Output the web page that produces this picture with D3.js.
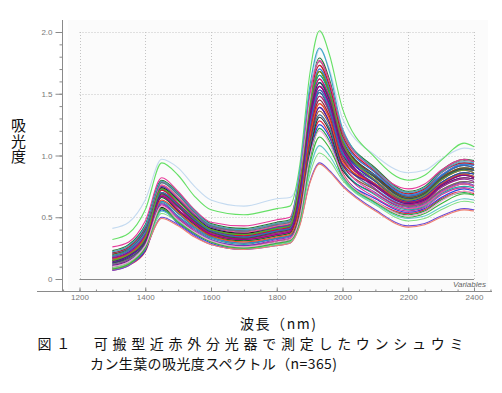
<!DOCTYPE html>
<html><head><meta charset="utf-8">
<script src="https://cdn.jsdelivr.net/npm/d3@7"></script>
<style>html,body{margin:0;padding:0;background:#fff;}svg{display:block;}</style>
</head><body>
<script>
const wavelengths = [1300,1350,1400,1450,1500,1550,1600,1700,1800,1840,1870,1900,1930,1960,2000,2100,2200,2250,2300,2370,2400];

const coreSpectra = [
[.07,.11,.22,.57,.46,.37,.30,.25,.29,.31,.49,1.01,1.28,1.17,.86,.63,.53,.56,.65,.71,.69],
[.08,.12,.23,.56,.45,.36,.29,.24,.28,.30,.47,.98,1.25,1.15,.84,.65,.54,.57,.66,.73,.71],
[.09,.13,.24,.58,.48,.38,.31,.26,.30,.32,.45,.95,1.22,1.12,.82,.62,.52,.55,.64,.70,.68],
[.09,.14,.25,.60,.49,.39,.31,.27,.31,.33,.53,1.06,1.33,1.22,.90,.66,.55,.58,.68,.74,.72],
[.10,.14,.26,.58,.48,.38,.31,.26,.30,.32,.51,1.03,1.31,1.20,.88,.69,.57,.60,.70,.77,.75],
[.11,.15,.28,.62,.51,.41,.33,.28,.33,.35,.53,1.06,1.33,1.22,.90,.68,.56,.59,.69,.75,.74],
[.12,.16,.29,.61,.50,.40,.32,.27,.32,.34,.57,1.12,1.39,1.27,.93,.70,.58,.61,.71,.78,.76],
[.10,.14,.26,.63,.53,.42,.34,.29,.33,.35,.55,1.09,1.36,1.25,.92,.72,.59,.62,.72,.79,.78],
[.13,.17,.30,.64,.54,.43,.35,.30,.34,.36,.59,1.14,1.42,1.30,.95,.69,.57,.60,.70,.77,.75],
[.13,.18,.31,.63,.53,.42,.34,.29,.33,.35,.61,1.17,1.45,1.32,.97,.73,.60,.63,.74,.81,.79],
[.12,.16,.29,.66,.55,.44,.35,.31,.35,.37,.63,1.20,1.48,1.35,.99,.72,.59,.62,.72,.79,.78],
[.14,.19,.32,.67,.56,.45,.36,.32,.36,.38,.61,1.17,1.45,1.32,.97,.75,.61,.64,.75,.82,.81],
[.15,.20,.33,.66,.55,.44,.35,.31,.35,.37,.65,1.23,1.51,1.37,1.01,.76,.62,.65,.76,.84,.82],
[.13,.18,.31,.68,.58,.46,.37,.33,.37,.39,.67,1.25,1.53,1.40,1.03,.75,.61,.64,.75,.82,.81],
[.16,.20,.34,.68,.58,.46,.37,.33,.37,.39,.63,1.20,1.48,1.35,.99,.77,.62,.66,.77,.85,.83],
[.15,.20,.33,.69,.59,.47,.38,.33,.38,.40,.65,1.23,1.51,1.37,1.01,.79,.63,.67,.78,.86,.85],
[.17,.21,.35,.69,.59,.47,.38,.33,.38,.40,.69,1.28,1.56,1.42,1.05,.76,.62,.65,.76,.84,.82],
[.16,.20,.34,.70,.60,.48,.39,.34,.39,.41,.67,1.25,1.53,1.40,1.03,.77,.62,.66,.77,.85,.83],
[.17,.22,.36,.70,.60,.48,.39,.34,.39,.41,.71,1.31,1.59,1.45,1.07,.79,.63,.67,.78,.86,.85],
[.17,.21,.35,.72,.61,.49,.39,.35,.40,.42,.69,1.28,1.56,1.42,1.05,.80,.64,.68,.80,.88,.86],
[.18,.23,.37,.72,.61,.49,.39,.35,.40,.42,.73,1.34,1.62,1.47,1.09,.82,.65,.69,.81,.89,.88],
[.17,.22,.36,.73,.63,.50,.40,.36,.41,.43,.71,1.31,1.59,1.45,1.07,.79,.63,.67,.78,.86,.85],
[.19,.24,.39,.73,.63,.50,.40,.36,.41,.43,.75,1.36,1.65,1.50,1.11,.83,.66,.70,.82,.90,.89],
[.18,.23,.37,.74,.64,.51,.41,.37,.42,.44,.73,1.34,1.62,1.47,1.09,.80,.64,.68,.80,.88,.86],
[.20,.25,.40,.74,.64,.51,.41,.37,.42,.44,.77,1.39,1.68,1.52,1.12,.84,.67,.71,.83,.92,.90],
[.19,.24,.39,.75,.65,.52,.42,.38,.42,.44,.75,1.36,1.65,1.50,1.11,.82,.65,.69,.81,.89,.88],
[.21,.25,.41,.75,.65,.52,.42,.38,.42,.44,.79,1.42,1.70,1.55,1.14,.86,.68,.72,.84,.93,.92],
[.20,.25,.40,.76,.66,.53,.43,.38,.43,.45,.77,1.39,1.68,1.52,1.12,.83,.66,.70,.82,.90,.89],
[.21,.26,.42,.76,.66,.53,.43,.38,.43,.45,.81,1.45,1.73,1.57,1.16,.87,.69,.73,.86,.94,.93],
[.21,.25,.41,.78,.68,.54,.43,.39,.44,.46,.79,1.42,1.70,1.55,1.14,.86,.68,.72,.84,.93,.92],
[.22,.27,.43,.78,.68,.54,.43,.39,.44,.46,.83,1.47,1.76,1.60,1.18,.89,.70,.74,.87,.96,.95],
[.21,.26,.42,.79,.69,.55,.44,.40,.45,.47,.81,1.45,1.73,1.57,1.16,.87,.69,.73,.86,.94,.93],
[.23,.28,.44,.80,.70,.56,.45,.41,.46,.48,.85,1.50,1.79,1.62,1.20,.90,.71,.75,.88,.97,.96],
[.14,.19,.32,.70,.60,.48,.39,.34,.39,.41,.57,1.12,1.39,1.27,.93,.76,.62,.65,.76,.84,.82],
[.17,.21,.35,.67,.56,.45,.36,.32,.36,.38,.73,1.34,1.62,1.47,1.09,.73,.60,.63,.74,.81,.79],
[.13,.17,.30,.69,.59,.47,.38,.33,.38,.40,.71,1.31,1.59,1.45,1.07,.82,.65,.69,.81,.89,.88],
[.16,.20,.34,.64,.54,.43,.35,.30,.34,.36,.59,1.14,1.42,1.30,.95,.77,.62,.66,.77,.85,.83],
[.18,.23,.37,.70,.60,.48,.39,.34,.39,.41,.65,1.23,1.51,1.37,1.01,.84,.67,.71,.83,.92,.90],
[.15,.20,.33,.73,.63,.50,.40,.36,.41,.43,.77,1.39,1.68,1.52,1.12,.80,.64,.68,.80,.88,.86],
[.11,.15,.28,.67,.56,.45,.36,.32,.36,.38,.69,1.28,1.56,1.42,1.05,.76,.62,.65,.76,.84,.82]
];

const outlierSpectra = [
[.41,.46,.64,.97,.90,.75,.64,.59,.65,.66,.85,1.45,1.86,1.70,1.30,1.00,.86,.88,.97,1.06,1.05],
[.32,.37,.56,.94,.84,.67,.56,.52,.57,.59,.92,1.65,2.01,1.82,1.38,.98,.80,.84,.96,1.10,1.07],
[.26,.30,.47,.82,.71,.56,.46,.43,.48,.50,.85,1.48,1.77,1.60,1.20,.88,.73,.77,.88,.97,.95],
[.22,.27,.43,.79,.69,.55,.44,.40,.45,.47,.88,1.55,1.87,1.68,1.22,.88,.70,.74,.86,.95,.94],
[.07,.11,.24,.50,.44,.35,.28,.24,.27,.29,.44,.78,.94,.88,.76,.56,.43,.45,.51,.57,.56],
[.08,.12,.25,.49,.43,.34,.28,.24,.27,.29,.43,.77,.93,.87,.75,.55,.42,.44,.50,.56,.55],
[.09,.13,.26,.53,.46,.37,.30,.25,.28,.30,.46,.84,1.02,.96,.80,.60,.47,.49,.56,.63,.62],
[.10,.14,.27,.55,.47,.38,.31,.26,.29,.31,.47,.88,1.08,1.00,.82,.61,.49,.51,.58,.65,.64],
[.08,.12,.25,.57,.46,.37,.30,.25,.29,.31,.47,.92,1.15,1.06,.84,.62,.50,.53,.61,.69,.68],
[.10,.14,.27,.59,.48,.38,.31,.26,.30,.32,.50,.98,1.20,1.10,.85,.63,.51,.54,.63,.71,.70]
];

const coreColors = ["#e0102a","#1530d8","#0a9a3a","#d01890","#1a1a1a","#0d9c9c","#7030c0","#8b3a1a","#ff5fa8","#2090e0","#707070","#b01818","#0a6a20","#4a1a90","#c0107a","#305050","#e85010","#3a70c0","#60b020","#900090"];
const outlierColors = ["#c4daf0","#66e066","#e8389a","#40a8c8","#6a4cd8","#f08070","#80e080","#60c8c8","#3cb43c","#f0a0d0"];

const xTickValues = [1200,1400,1600,1800,2000,2200,2400];
const yTickValues = [0,0.5,1.0,1.5,2.0];
const yTickLabels = ["0","0.5","1.0","1.5","2.0"];

const W = 502, H = 393;
const svg = d3.select("body").append("svg").attr("width", W).attr("height", H);
svg.append("rect").attr("width", W).attr("height", H).attr("fill", "#fff");
svg.append("rect").attr("x", 68).attr("y", 20).attr("width", 420).attr("height", 270).attr("fill", "#fbfbfb");

const x = d3.scaleLinear().domain([1200, 2400]).range([79.5, 474]);
const y = d3.scaleLinear().domain([0, 2]).range([279, 32]);

// grid
const grid = svg.append("g").attr("stroke", "#c4c4c4").attr("stroke-dasharray", "1,2").attr("stroke-width", 1);
grid.selectAll("line.v").data(xTickValues).join("line")
  .attr("x1", d => Math.round(x(d)) + 0.5).attr("x2", d => Math.round(x(d)) + 0.5)
  .attr("y1", y(2)).attr("y2", y(0));
grid.selectAll("line.h").data(yTickValues.filter(v => v > 0)).join("line")
  .attr("x1", x(1200)).attr("x2", x(2400))
  .attr("y1", d => Math.round(y(d)) + 0.5).attr("y2", d => Math.round(y(d)) + 0.5);

// zero line
svg.append("line").attr("x1", x(1200)).attr("x2", x(2400))
  .attr("y1", Math.round(y(0)) + 0.5).attr("y2", Math.round(y(0)) + 0.5)
  .attr("stroke", "#888").attr("stroke-width", 1);

// spectra
const line = d3.line().x((d, i) => x(wavelengths[i])).y(d => y(d)).curve(d3.curveMonotoneX);
const gLines = svg.append("g").attr("fill", "none").attr("stroke-width", 1.1);
gLines.selectAll("path.core").data(coreSpectra).join("path")
  .attr("d", line).attr("stroke", (d, i) => coreColors[i % coreColors.length]).attr("stroke-opacity", 0.9);
gLines.selectAll("path.out").data(outlierSpectra).join("path")
  .attr("d", line).attr("stroke", (d, i) => outlierColors[i]);

// y axis
const yAxisX = 62.5;
const yMajor = d3.axisLeft(y).tickValues(yTickValues).tickSize(7).tickPadding(3)
  .tickFormat((d, i) => yTickLabels[i]);
const yMinor = d3.axisLeft(y).tickValues(d3.range(0, 2.001, 0.1)).tickSize(3).tickFormat("");
const gyMinor = svg.append("g").attr("transform", `translate(${yAxisX},0)`).call(yMinor);
const gy = svg.append("g").attr("transform", `translate(${yAxisX},0)`).call(yMajor);
[gy, gyMinor].forEach(g => {
  g.select(".domain").remove();
  g.selectAll("line").attr("stroke", "#8a8a8a");
});
gy.selectAll("text").attr("font-family", "Liberation Sans, Arial, sans-serif").attr("font-size", 8).attr("fill", "#777");
svg.append("line").attr("x1", yAxisX).attr("x2", yAxisX).attr("y1", 20).attr("y2", 291).attr("stroke", "#8a8a8a");

// x axis
const xAxisY = 291.5;
const xMajor = d3.axisBottom(x).tickValues(xTickValues).tickSize(-4).tickPadding(3).tickFormat(d3.format("d"));
const xMinor = d3.axisBottom(x).tickValues(d3.range(1150, 2451, 50)).tickSize(-2).tickFormat("");
const gxMinor = svg.append("g").attr("transform", `translate(0,${xAxisY})`).call(xMinor);
const gx = svg.append("g").attr("transform", `translate(0,${xAxisY})`).call(xMajor);
[gx, gxMinor].forEach(g => {
  g.select(".domain").remove();
  g.selectAll("line").attr("stroke", "#8a8a8a");
});
gx.selectAll("text").attr("font-family", "Liberation Sans, Arial, sans-serif").attr("font-size", 8).attr("fill", "#777");
svg.append("line").attr("x1", 37).attr("x2", 492).attr("y1", xAxisY).attr("y2", xAxisY).attr("stroke", "#8a8a8a");

svg.append("text").attr("x", 486).attr("y", 286.5).attr("text-anchor", "end")
  .attr("font-family", "Liberation Sans, Arial, sans-serif").attr("font-size", 8)
  .attr("font-style", "italic").attr("fill", "#666").text("Variables");

// labels
const jp = "'Noto Sans CJK JP', 'Noto Sans CJK SC', sans-serif";
svg.append("text").attr("x", 18.5).attr("y", 118)
  .style("writing-mode", "vertical-rl").attr("letter-spacing", 0.5)
  .attr("font-family", jp).attr("font-size", 15).attr("fill", "#111").text("吸光度");

svg.append("text").attr("x", 240).attr("y", 328.5)
  .attr("font-family", jp).attr("font-size", 14).attr("fill", "#111")
  .attr("textLength", 76).attr("lengthAdjust", "spacing").text("波長（nm)");

svg.append("text").attr("x", 37.5).attr("y", 348.5)
  .attr("font-family", jp).attr("font-size", 14).attr("fill", "#111")
  .attr("textLength", 426).attr("lengthAdjust", "spacing")
  .text("図１　可搬型近赤外分光器で測定したウンシュウミ");
svg.append("text").attr("x", 90).attr("y", 368.5)
  .attr("font-family", jp).attr("font-size", 14).attr("fill", "#111")
  .attr("textLength", 247).attr("lengthAdjust", "spacing")
  .text("カン生葉の吸光度スペクトル（n=365)");
</script>
</body></html>
